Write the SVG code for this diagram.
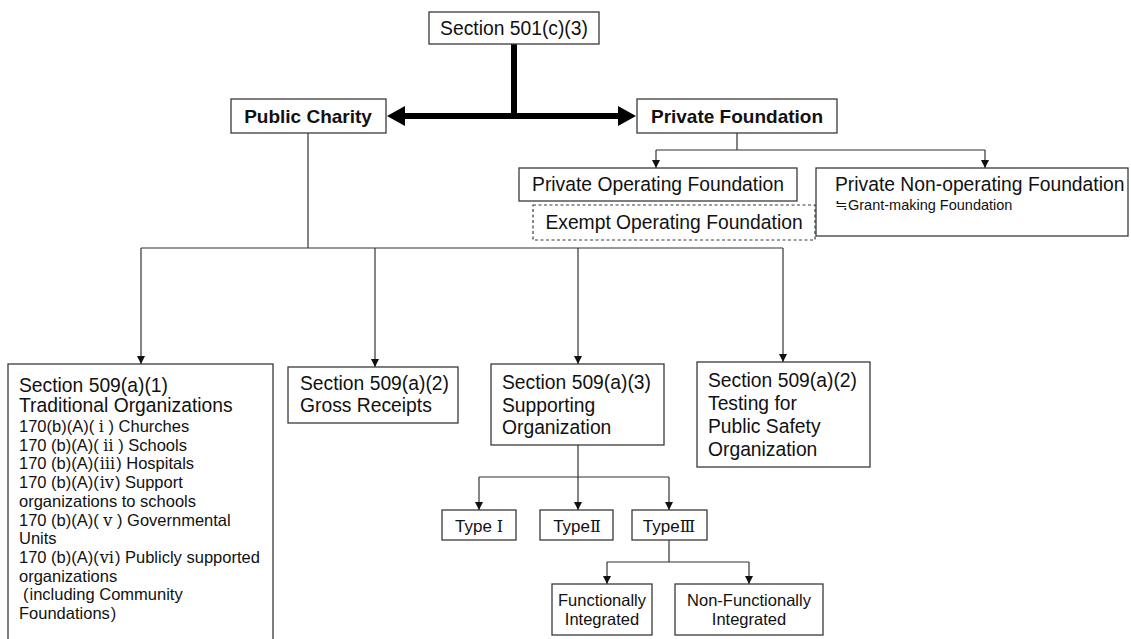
<svg xmlns="http://www.w3.org/2000/svg" width="1131" height="639" viewBox="0 0 1131 639">
  <style>
    .box { fill: #ffffff; stroke: #3a3a3a; stroke-width: 1.3; }
    .dash { fill: #ffffff; stroke: #3a3a3a; stroke-width: 1.2; stroke-dasharray: 3 2.5; }
    .t { font-family: "Liberation Sans", Arial, sans-serif; font-size: 19.3px; fill: #111; }
    .b { font-family: "Liberation Sans", Arial, sans-serif; font-size: 19px; font-weight: bold; fill: #111; }
    .s { font-family: "Liberation Sans", Arial, sans-serif; font-size: 16.5px; fill: #111; }
    .m { font-family: "Liberation Sans", Arial, sans-serif; font-size: 14.5px; fill: #111; }
    .ty { font-family: "Liberation Sans", Arial, sans-serif; font-size: 17px; fill: #111; }
    .rn { font-family: "DejaVu Serif", "Liberation Serif", serif; font-size: 16px; }
    .cjk { font-family: "Noto Sans CJK JP", sans-serif; }
    .c { text-anchor: middle; }
    .ln { fill: none; stroke: #333; stroke-width: 1.2; }
    .arr { fill: none; stroke: #333; stroke-width: 1.2; marker-end: url(#tip); }
    .thick { fill: none; stroke: #000; stroke-width: 6; }
  </style>
  <defs>
    <marker id="tip" viewBox="0 0 10 10" refX="10" refY="5" markerWidth="8" markerHeight="8" markerUnits="userSpaceOnUse" orient="auto">
      <path d="M0,0 L10,5 L0,10 Z" fill="#111"/>
    </marker>
  </defs>

  <!-- connectors -->
  <g id="connectors">
    <!-- 501(c)(3) split -->
    <line class="thick" x1="514" y1="44" x2="514" y2="116"/>
    <line class="thick" x1="402" y1="116" x2="620" y2="116"/>
    <path d="M387,116 L405,106 L405,126 Z" fill="#000"/>
    <path d="M636,116 L618,106 L618,126 Z" fill="#000"/>

    <!-- Private Foundation branch -->
    <path class="ln" d="M737,133 V150 M656,150 H985"/>
    <line class="arr" x1="656" y1="150" x2="656" y2="168"/>
    <line class="arr" x1="985" y1="150" x2="985" y2="168"/>

    <!-- Public Charity branch -->
    <path class="ln" d="M308,133 V248 M141,248 H783"/>
    <line class="arr" x1="141" y1="248" x2="141" y2="364"/>
    <line class="arr" x1="375" y1="248" x2="375" y2="367"/>
    <line class="arr" x1="578" y1="248" x2="578" y2="364"/>
    <line class="arr" x1="783" y1="248" x2="783" y2="362"/>

    <!-- Supporting Organization types -->
    <path class="ln" d="M578,445 V477 M479,477 H669"/>
    <line class="arr" x1="479" y1="477" x2="479" y2="510"/>
    <line class="arr" x1="578" y1="477" x2="578" y2="510"/>
    <line class="arr" x1="669" y1="477" x2="669" y2="510"/>

    <!-- Type III split -->
    <path class="ln" d="M669,540 V562 M607,562 H749"/>
    <line class="arr" x1="607" y1="562" x2="607" y2="584"/>
    <line class="arr" x1="749" y1="562" x2="749" y2="584"/>
  </g>

  <g id="n501c3">
    <rect class="box" x="429" y="12" width="170" height="32"/>
    <text class="t c" x="514" y="35">Section 501(c)(3)</text>
  </g>

  <g id="public-charity">
    <rect class="box" x="231" y="99" width="155" height="34"/>
    <text class="b c" x="308" y="123">Public Charity</text>
  </g>

  <g id="private-foundation">
    <rect class="box" x="637" y="99" width="200" height="34"/>
    <text class="b c" x="737" y="123">Private Foundation</text>
  </g>

  <g id="private-operating">
    <rect class="box" x="519" y="168" width="278" height="33"/>
    <text class="t c" x="658" y="191">Private Operating Foundation</text>
  </g>

  <g id="exempt-operating">
    <rect class="dash" x="533" y="205" width="282" height="35"/>
    <text class="t c" x="674" y="229">Exempt Operating Foundation</text>
  </g>

  <g id="private-nonoperating">
    <rect class="box" x="816" y="168" width="312" height="68"/>
    <text class="t" x="835" y="191">Private Non-operating Foundation</text>
    <text class="m" x="835" y="210"><tspan class="cjk">≒</tspan>Grant-making Foundation</text>
  </g>

  <g id="sec509a1">
    <rect class="box" x="8" y="364" width="265" height="290"/>
    <text class="t" x="19" y="392">Section 509(a)(1)</text>
    <text class="t" x="19" y="412">Traditional Organizations</text>
    <text class="s" x="19" y="432">170(b)(A)( <tspan class="rn">ⅰ</tspan> ) Churches</text>
    <text class="s" x="19" y="450.7">170 (b)(A)( <tspan class="rn">ⅱ</tspan> ) Schools</text>
    <text class="s" x="19" y="469.4">170 (b)(A)(<tspan class="rn" dx="1">ⅲ</tspan><tspan dx="1">) Hospitals</tspan></text>
    <text class="s" x="19" y="488.1">170 (b)(A)(<tspan class="rn" dx="1">ⅳ</tspan><tspan dx="1">) Support</tspan></text>
    <text class="s" x="19" y="506.8">organizations to schools</text>
    <text class="s" x="19" y="525.5">170 (b)(A)( <tspan class="rn">ⅴ</tspan> ) Governmental</text>
    <text class="s" x="19" y="544.2">Units</text>
    <text class="s" x="19" y="562.9">170 (b)(A)(<tspan class="rn" dx="1">ⅵ</tspan><tspan dx="1">) Publicly supported</tspan></text>
    <text class="s" x="19" y="581.6">organizations</text>
    <text class="s" x="19" y="600.3"><tspan dx="4">(</tspan><tspan dx="1">including Community</tspan></text>
    <text class="s" x="19" y="619">Foundations<tspan dx="1">)</tspan></text>
  </g>

  <g id="sec509a2-gross">
    <rect class="box" x="288" y="367" width="170" height="56"/>
    <text class="t" x="300" y="390">Section 509(a)(2)</text>
    <text class="t" x="300" y="412">Gross Receipts</text>
  </g>

  <g id="sec509a3">
    <rect class="box" x="491" y="364" width="173" height="81"/>
    <text class="t" x="502" y="389">Section 509(a)(3)</text>
    <text class="t" x="502" y="411.5">Supporting</text>
    <text class="t" x="502" y="434">Organization</text>
  </g>

  <g id="sec509a2-safety">
    <rect class="box" x="697" y="362" width="173" height="105"/>
    <text class="t" x="708" y="387">Section 509(a)(2)</text>
    <text class="t" x="708" y="410">Testing for</text>
    <text class="t" x="708" y="433">Public Safety</text>
    <text class="t" x="708" y="456">Organization</text>
  </g>

  <g id="type1">
    <rect class="box" x="442" y="510" width="74" height="30"/>
    <text class="ty c" x="479" y="532">Type <tspan class="rn">Ⅰ</tspan></text>
  </g>

  <g id="type2">
    <rect class="box" x="540" y="510" width="73" height="30"/>
    <text class="ty c" x="577" y="532">Type<tspan class="rn">Ⅱ</tspan></text>
  </g>

  <g id="type3">
    <rect class="box" x="632" y="510" width="75" height="30"/>
    <text class="ty c" x="669" y="532">Type<tspan class="rn">Ⅲ</tspan></text>
  </g>

  <g id="functionally">
    <rect class="box" x="552" y="584" width="100" height="51"/>
    <text class="s c" x="602" y="606">Functionally</text>
    <text class="s c" x="602" y="625">Integrated</text>
  </g>

  <g id="non-functionally">
    <rect class="box" x="675" y="584" width="148" height="51"/>
    <text class="s c" x="749" y="606">Non-Functionally</text>
    <text class="s c" x="749" y="625">Integrated</text>
  </g>
</svg>
